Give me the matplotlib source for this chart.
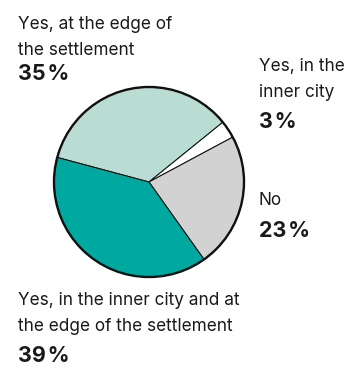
import matplotlib
matplotlib.use("Agg")
import matplotlib.pyplot as plt
from matplotlib.patches import Circle

# Survey answers, in drawing order (clockwise from the left)
categories = [
    "Yes, at the edge of\nthe settlement",
    "Yes, in the\ninner city",
    "No",
    "Yes, in the inner city and at\nthe edge of the settlement",
]
shares = [35, 3, 23, 39]
colors = ["#b9ddd3", "#ffffff", "#d2d2d2", "#00a99f"]

W, H = 358, 367
DPI = 100
fig = plt.figure(figsize=(W / DPI, H / DPI), dpi=DPI)
fig.patch.set_facecolor("white")

# Pie placement in pixels
cx, cy, r = 149, 182, 95
pad = 1.04
side = 2 * r * pad
ax = fig.add_axes([(cx - r * pad) / W, (H - cy - r * pad) / H, side / W, side / H])
ax.pie(shares, colors=colors, startangle=165, counterclock=False,
       wedgeprops=dict(edgecolor="#111111", linewidth=0.75))
ax.add_patch(Circle((0, 0), 1, fill=False, edgecolor="#111111", linewidth=1.7))
ax.set_xlim(-pad, pad)
ax.set_ylim(-pad, pad)
ax.set_aspect("equal")
ax.axis("off")

txt_color = "#1a1a1a"
reg = dict(family=["Inter", "DejaVu Sans"], fontsize=12.4, color=txt_color,
           va="baseline", ha="left")
bold = dict(family=["Inter", "DejaVu Sans"], fontsize=15.5, fontweight="bold",
            color=txt_color, va="baseline", ha="left")


def put(x, y, s, **kw):
    fig.text(x / W, 1 - y / H, s, **kw)


# Label anchors: (x, first-line baseline, percentage baseline)
label_pos = [(18, 29, 80), (259, 71, 128), (259, 205, 237), (18, 305, 362)]
for cat, val, (x, yb, yp) in zip(categories, shares, label_pos):
    lines = cat.split("\n")
    for i, line in enumerate(lines):
        put(x, yb + i * 26, line, **reg)
    put(x, yp, f"{val}\u200a%", **bold)

fig.savefig("out.png", dpi=DPI, facecolor="white")
